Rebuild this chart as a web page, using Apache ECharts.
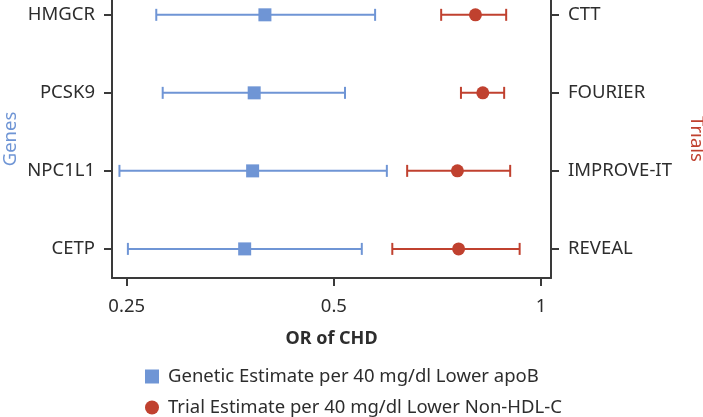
<!DOCTYPE html>
<html>
<head>
<meta charset="utf-8">
<script src="https://cdn.jsdelivr.net/npm/echarts@6/dist/echarts.min.js"></script>
<style>
  html, body { margin: 0; padding: 0; background: #fff; }
  #chart { width: 703px; height: 417px; }
</style>
</head>
<body>
<div id="chart"></div>
<script>
// rows from bottom (1) to top (4)
let genes = ['CETP', 'NPC1L1', 'PCSK9', 'HMGCR'];
let trials = ['REVEAL', 'IMPROVE-IT', 'FOURIER', 'CTT'];
let rowPos = [1, 2, 3, 4];

// odds ratio of CHD, point estimate and 95% CI
let geneOR = [0.371, 0.381, 0.383, 0.397];
let geneLow = [0.251, 0.244, 0.282, 0.276];
let geneHigh = [0.549, 0.597, 0.519, 0.574];

let trialOR = [0.759, 0.756, 0.823, 0.803];
let trialLow = [0.608, 0.639, 0.765, 0.716];
let trialHigh = [0.931, 0.902, 0.884, 0.890];

let xTicks = [0.25, 0.5, 1];

const BLUE = '#6f95d5';
const RED = '#c0412f';
const DARK = '#3a3a3a';
const TEXT = '#2d2d2d';
const FONT = '"Noto Sans", "Open Sans", sans-serif';
const FS = 18.5;

var myChart = echarts.init(document.getElementById('chart'));

function errorBar(color) {
    return function (params, api) {
        let y = api.value(0);
        let p1 = api.coord([api.value(1), y]);
        let p2 = api.coord([api.value(2), y]);
        let h = 6;
        let style = { stroke: color, lineWidth: 2 };
        return {
            type: 'group',
            children: [
                { type: 'line', shape: { x1: p1[0], y1: p1[1], x2: p2[0], y2: p2[1] }, style: style },
                { type: 'line', shape: { x1: p1[0], y1: p1[1] - h, x2: p1[0], y2: p1[1] + h }, style: style },
                { type: 'line', shape: { x1: p2[0], y1: p2[1] - h, x2: p2[0], y2: p2[1] + h }, style: style }
            ]
        };
    };
}

let geneBars = rowPos.map((r, i) => [r, geneLow[i], geneHigh[i]]);
let trialBars = rowPos.map((r, i) => [r, trialLow[i], trialHigh[i]]);
let genePts = rowPos.map((r, i) => [geneOR[i], r]);
let trialPts = rowPos.map((r, i) => [trialOR[i], r]);

let yBase = {
    type: 'value',
    min: 0.627,
    max: 4.19,
    splitLine: { show: false },
    axisLine: { show: true, onZero: false, lineStyle: { color: DARK, width: 2 } },
    axisTick: { show: true, length: 8, customValues: rowPos, lineStyle: { color: DARK, width: 2 } },
    nameLocation: 'middle',
    nameMoveOverlap: false,
    nameTextStyle: { fontFamily: FONT, fontSize: FS }
};

let option = {
    animation: false,
    textStyle: { fontFamily: FONT },
    grid: { left: 112, right: 152, top: 0, bottom: 139, outerBoundsMode: 'none', containLabel: false },
    legend: {
        orient: 'vertical',
        left: 145,
        top: 367,
        padding: 0,
        itemWidth: 14,
        itemHeight: 14,
        itemGap: 12,
        textStyle: { fontFamily: FONT, fontSize: FS, color: TEXT, padding: [0, 0, 0, 4] },
        data: [
            { name: 'Genetic Estimate per 40 mg/dl Lower apoB', icon: 'rect' },
            { name: 'Trial Estimate per 40 mg/dl Lower Non-HDL-C', icon: 'circle' }
        ]
    },
    xAxis: {
        type: 'log',
        logBase: 2,
        min: 0.238,
        max: 1.034,
        name: 'OR of CHD',
        nameLocation: 'middle',
        nameGap: 52,
        nameMoveOverlap: false,
        nameTextStyle: { fontFamily: FONT, fontSize: 18, fontWeight: 'bold', color: TEXT },
        splitLine: { show: false },
        axisLine: { show: true, onZero: false, lineStyle: { color: DARK, width: 2 } },
        axisTick: { show: true, length: 8, customValues: xTicks, lineStyle: { color: DARK, width: 2 } },
        axisLabel: {
            customValues: xTicks,
            margin: 19,
            fontSize: FS,
            color: TEXT,
            formatter: (v) => String(+v.toFixed(2))
        }
    },
    yAxis: [
        Object.assign({}, yBase, {
            position: 'left',
            name: 'Genes',
            nameRotate: 90,
            nameGap: 92,
            nameTextStyle: Object.assign({}, yBase.nameTextStyle, { color: BLUE }),
            axisLabel: {
                customValues: rowPos,
                margin: 17,
                fontSize: FS,
                color: TEXT,
                formatter: (v) => genes[Math.round(v) - 1]
            }
        }),
        Object.assign({}, yBase, {
            position: 'right',
            name: 'Trials',
            nameRotate: -90,
            nameGap: 136,
            nameTextStyle: Object.assign({}, yBase.nameTextStyle, { color: RED }),
            axisLabel: {
                customValues: rowPos,
                margin: 17,
                fontSize: FS,
                color: TEXT,
                formatter: (v) => trials[Math.round(v) - 1]
            }
        })
    ],
    series: [
        {
            type: 'custom',
            name: 'geneCI',
            renderItem: errorBar(BLUE),
            encode: { x: [1, 2], y: 0 },
            data: geneBars,
            z: 1
        },
        {
            type: 'custom',
            name: 'trialCI',
            renderItem: errorBar(RED),
            encode: { x: [1, 2], y: 0 },
            data: trialBars,
            z: 1
        },
        {
            type: 'scatter',
            name: 'Genetic Estimate per 40 mg/dl Lower apoB',
            symbol: 'rect',
            symbolSize: 13,
            itemStyle: { color: BLUE, opacity: 1 },
            data: genePts,
            z: 3
        },
        {
            type: 'scatter',
            name: 'Trial Estimate per 40 mg/dl Lower Non-HDL-C',
            symbol: 'circle',
            symbolSize: 13,
            itemStyle: { color: RED, opacity: 1 },
            data: trialPts,
            z: 3
        }
    ]
};
myChart.setOption(option);
</script>
</body>
</html>
